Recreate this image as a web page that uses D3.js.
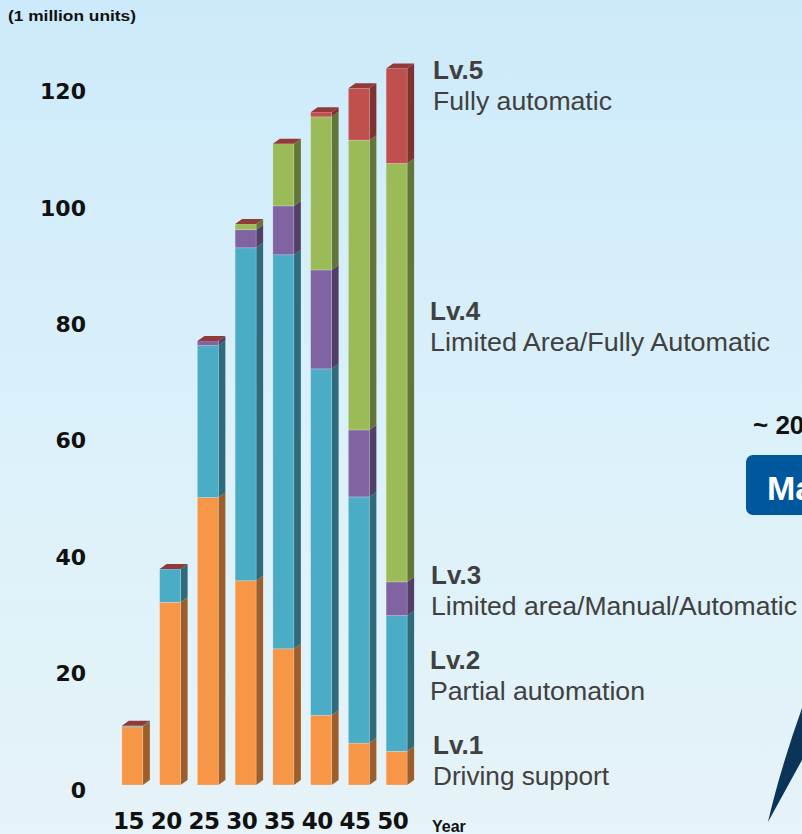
<!DOCTYPE html>
<html>
<head>
<meta charset="utf-8">
<script src="https://cdn.jsdelivr.net/npm/d3@7"></script>
<style>
  html, body { margin: 0; padding: 0; background: #dcf0fa; }
  svg { display: block; }
</style>
</head>
<body>
<svg id="chart" width="802" height="834"></svg>
<script>
// Forecast of vehicle units by automation level (1 million units), stacked 3D columns.
const years = ["15", "20", "25", "30", "35", "40", "45", "50"];
const levels = ["lv1", "lv2", "lv3", "lv4", "lv5"];
const lv1 = [10.0, 31.4, 49.4, 35.1, 23.4, 12.0, 7.2, 5.8];
const lv2 = [0.2, 5.7, 26.1, 57.2, 67.7, 59.5, 42.3, 23.3];
const lv3 = [0, 0, 0.8, 3.1, 8.4, 17.0, 11.5, 5.8];
const lv4 = [0, 0, 0, 1.0, 10.7, 26.3, 49.8, 71.9];
const lv5 = [0, 0, 0, 0, 0, 0.8, 8.9, 16.3];
const yTicks = [0, 20, 40, 60, 80, 100, 120];

const rows = years.map((y, i) => ({ year: y, lv1: lv1[i], lv2: lv2[i], lv3: lv3[i], lv4: lv4[i], lv5: lv5[i] }));

// front / side face colors per level (Office palette); caps take the top series colour
const frontColor = { lv1: "#f79646", lv2: "#4bacc6", lv3: "#8064a2", lv4: "#9bbb59", lv5: "#c0504d" };
const sideColor  = { lv1: "#9d5e2c", lv2: "#2f6b7b", lv3: "#513f66", lv4: "#637637", lv5: "#7f3331" };
const capColor = "#923a38";

const svg = d3.select("#chart");
const W = 802, H = 834;

// background wash
const defs = svg.append("defs");
const bg = defs.append("linearGradient").attr("id", "bg").attr("x1", 0).attr("y1", 0).attr("x2", 0).attr("y2", 1);
bg.append("stop").attr("offset", 0).attr("stop-color", "#cdeafa");
bg.append("stop").attr("offset", 0.55).attr("stop-color", "#dcf1fa");
bg.append("stop").attr("offset", 1).attr("stop-color", "#e6f3f8");
svg.append("rect").attr("width", W).attr("height", H).attr("fill", "url(#bg)");

const x = d3.scaleBand().domain(years).range([113.5, 415.5]).paddingInner(0.444).paddingOuter(0.222);
const y = d3.scaleLinear().domain([0, 120]).range([785, 86.6]);
const dx = 7, dy = 5;

const series = d3.stack().keys(levels)(rows);

const g = svg.append("g");
series.forEach((s) => {
  const key = s.key;
  const seg = g.selectAll(null).data(s).join("g");
  // side face
  seg.append("path")
    .attr("fill", sideColor[key])
    .attr("d", (d) => {
      const xr = x(d.data.year) + x.bandwidth();
      const y0 = y(d[0]), y1 = y(d[1]);
      return `M${xr},${y0} L${xr + dx},${y0 - dy} L${xr + dx},${y1 - dy} L${xr},${y1} Z`;
    });
  // front face
  seg.append("rect")
    .attr("x", (d) => x(d.data.year))
    .attr("y", (d) => y(d[1]))
    .attr("width", x.bandwidth())
    .attr("height", (d) => y(d[0]) - y(d[1]))
    .attr("fill", frontColor[key])
    .attr("stroke", "rgba(255,255,255,0.35)")
    .attr("stroke-width", 0.6);
});

// top caps
g.selectAll("path.cap").data(rows).join("path")
  .attr("class", "cap")
  .attr("fill", capColor)
  .attr("d", (d) => {
    const total = levels.reduce((a, k) => a + d[k], 0);
    const xl = x(d.year), xr = xl + x.bandwidth(), yt = y(total);
    return `M${xl},${yt} L${xl + dx},${yt - dy} L${xr + dx},${yt - dy} L${xr},${yt} Z`;
  });

// y axis labels
const yAxis = svg.append("g").attr("transform", "translate(86,5)")
  .call(d3.axisLeft(y).tickValues(yTicks).tickSize(0).tickPadding(0));
yAxis.select(".domain").remove();
yAxis.selectAll("text")
  .attr("font-family", "DejaVu Sans")
  .attr("font-weight", "bold")
  .attr("font-size", 22)
  .attr("fill", "#111");

// x axis labels
const xAxis = svg.append("g").attr("transform", "translate(-4,813)")
  .call(d3.axisBottom(x).tickSize(0).tickPadding(0));
xAxis.select(".domain").remove();
xAxis.selectAll("text")
  .attr("font-family", "DejaVu Sans")
  .attr("font-weight", "bold")
  .attr("font-size", 23)
  .attr("letter-spacing", -0.5)
  .attr("fill", "#111");

svg.append("text").attr("x", 8).attr("y", 21)
  .attr("font-family", "Liberation Sans").attr("font-weight", "bold").attr("font-size", 14)
  .attr("fill", "#111").attr("textLength", 128).attr("lengthAdjust", "spacingAndGlyphs")
  .text("(1 million units)");

svg.append("text").attr("x", 432).attr("y", 832)
  .attr("font-family", "Liberation Sans").attr("font-weight", "bold").attr("font-size", 16)
  .attr("fill", "#111").text("Year");

// level annotations on the right
const notes = [
  { lv: "Lv.5", text: "Fully automatic", x: 433, y: 79, w: 179 },
  { lv: "Lv.4", text: "Limited Area/Fully Automatic", x: 430, y: 320, w: 340 },
  { lv: "Lv.3", text: "Limited area/Manual/Automatic", x: 431, y: 584, w: 366 },
  { lv: "Lv.2", text: "Partial automation", x: 430, y: 669, w: 215 },
  { lv: "Lv.1", text: "Driving support", x: 433, y: 754, w: 176 },
];
const ng = svg.append("g").attr("fill", "#404040").attr("font-family", "Liberation Sans");
notes.forEach((n) => {
  ng.append("text").attr("x", n.x).attr("y", n.y)
    .attr("font-weight", "bold").attr("font-size", 26).text(n.lv);
  ng.append("text").attr("x", n.x).attr("y", n.y + 31)
    .attr("font-size", 25).attr("textLength", n.w).attr("lengthAdjust", "spacingAndGlyphs")
    .text(n.text);
});

// callouts that run off the right edge, as in the source slide
svg.append("text").attr("x", 753).attr("y", 434)
  .attr("font-family", "Liberation Sans").attr("font-weight", "bold").attr("font-size", 26)
  .attr("fill", "#111").text("~ 20");
svg.append("rect").attr("x", 746).attr("y", 455).attr("width", 90).attr("height", 60).attr("rx", 7)
  .attr("fill", "#00579b");
svg.append("text").attr("x", 767).attr("y", 500)
  .attr("font-family", "Liberation Sans").attr("font-weight", "bold").attr("font-size", 34)
  .attr("fill", "#fff").text("Ma");
svg.append("path").attr("d", "M768,822 Q780,770 802,708 L802,760 Z").attr("fill", "#0c3358");
</script>
</body>
</html>
